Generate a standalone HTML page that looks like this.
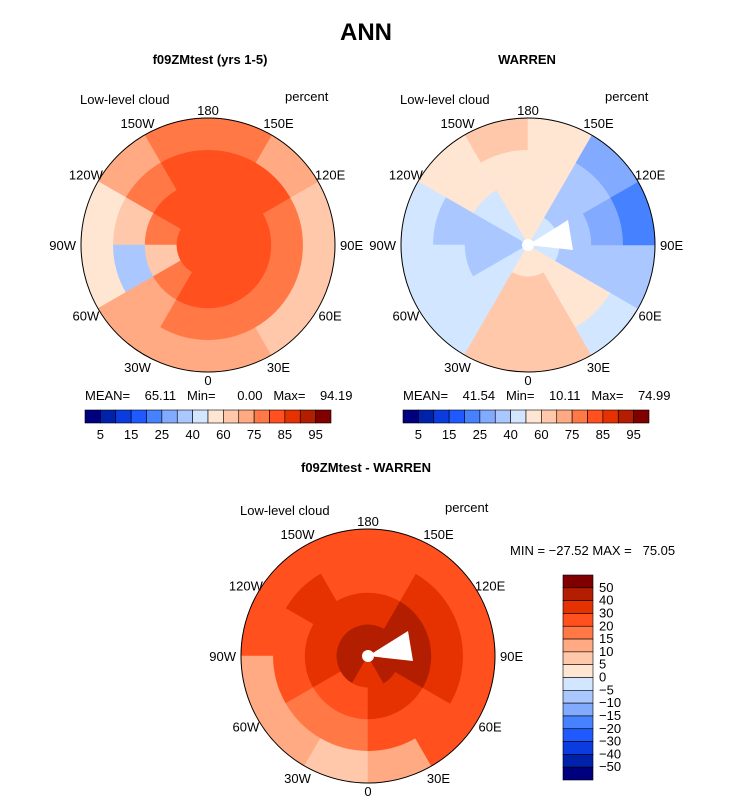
<!DOCTYPE html>
<html><head><meta charset="utf-8">
<style>
body{margin:0;background:#fff;}
svg{display:block;font-family:"Liberation Sans",sans-serif;}
.lbl{font-size:13px;fill:#000;}
.t{font-weight:bold;}
</style></head>
<body>
<svg id="svg" width="733" height="798" viewBox="0 0 733 798">
<text x="366" y="40" text-anchor="middle" font-size="24" class="t">ANN</text>
<text x="210" y="64" text-anchor="middle" font-size="13" class="t">f09ZMtest (yrs 1-5)</text>
<text x="527" y="64" text-anchor="middle" font-size="13" class="t">WARREN</text>
<text x="366" y="472" text-anchor="middle" font-size="13" class="t">f09ZMtest - WARREN</text>
<g id="maps"></g>
</svg>
<script>
const sectorsLon=[-165,-135,-105,-75,-45,-15,15,45,75,105,135,165];
const colors=["#00007f","#0022aa","#0a3ce0","#1e5aff","#4682ff","#82aaff","#aac8ff","#d2e6ff","#ffe6d2","#ffc8aa","#ffaa82","#ff7846","#ff501e","#e63200","#b41e00","#800000"];
const levelsAbs=[5,10,15,20,25,30,40,50,60,70,75,80,85,90,95];
const levelsDiff=[-50,-40,-30,-20,-15,-10,-5,0,5,10,15,20,30,40,50];
const labelsAbs=["5","15","25","40","60","75","85","95"];
const labelsDiff=["50","40","30","20","15","10","5","0","\u22125","\u221210","\u221215","\u221220","\u221230","\u221240","\u221250"];
const map1=[[82,82,80,75],[82,80,78,70],[82,75,65,50],[82,65,35,55],[82,75,70,72],[82,80,75,72],[82,82,78,72],[82,82,78,65],[82,82,75,60],[82,82,78,62],[82,82,80,70],[82,82,80,75]];
const map2=[[55,50,55,60],[45,45,50,55],[35,35,35,40],[30,30,40,45],[45,45,45,45],[55,60,60,60],[55,60,60,60],[50,55,50,45],[40,35,35,30],[35,30,25,20],[40,35,30,25],[50,50,55,55]];
const map3=[[45,30,25,20],[45,35,30,20],[45,35,25,20],[45,35,20,10],[45,25,15,10],[35,25,15,5],[35,30,20,10],[45,35,25,20],[45,40,30,20],[45,40,30,22],[45,40,30,22],[45,35,25,20]];
const NS="http://www.w3.org/2000/svg";
const root=document.getElementById('maps');
function mk(tag,attrs,parent){const e=document.createElementNS(NS,tag);for(const k in attrs)e.setAttribute(k,attrs[k]);(parent||root).appendChild(e);return e;}
function colorOf(v,lv){let i=0;while(i<lv.length&&v>=lv[i])i++;return colors[i];}
function pt(cx,cy,r,lon){const a=lon*Math.PI/180;return [cx+r*Math.sin(a),cy+r*Math.cos(a)];}
function drawMap(cx,cy,R,data,lv,name){
  const g=mk('g',{});
  
  
  for(let s=0;s<sectorsLon.length;s++){
    for(let k=0;k<data[s].length;k++){
      const r0=R*k/data[s].length,r1=R*(k+1)/data[s].length;
      const l0=sectorsLon[s]-15,l1=sectorsLon[s]+15;
      const a=pt(cx,cy,r1,l0),b=pt(cx,cy,r1,l1),c=pt(cx,cy,r0,l1),d=pt(cx,cy,r0,l0);
      const col=colorOf(data[s][k],lv);
      const p=mk('path',{d:`M${a[0]},${a[1]} A${r1},${r1} 0 0 0 ${b[0]},${b[1]} L${c[0]},${c[1]} A${r0},${r0} 0 0 1 ${d[0]},${d[1]}Z`,fill:col,stroke:col,'stroke-width':0.6},g);
      
      
    }
  }
  const c=mk('circle',{cx:cx,cy:cy,r:R,fill:'none',stroke:'#000','stroke-width':1},g);
  
  
  const lons=[[-150,"150W"],[150,"150E"],[-120,"120W"],[120,"120E"],[-60,"60W"],[60,"60E"],[-30,"30W"],[30,"30E"]];
  const addT=(x,y,t,anchor)=>{const tx=mk('text',{x:x,y:y,'text-anchor':anchor,class:'lbl'},g);tx.textContent=t;
    
    };
  lons.forEach(([l,t])=>{const q=pt(cx,cy,R+14,l);addT(q[0],q[1]+5,t,'middle');});
  addT(cx,cy-R-3,'180','middle');
  addT(cx,cy+R+13,'0','middle');
  addT(cx-R-5,cy+5,'90W','end');
  addT(cx+R+5,cy+5,'90E','start');
  const t1=mk('text',{x:cx-128,y:cy-141,class:'lbl'},g);t1.textContent='Low-level cloud';
  
  
  const t2=mk('text',{x:cx+77,y:cy-144,class:'lbl'},g);t2.textContent='percent';
  
  
}
function hbar(x0,y0,w,h,stat,name){
  const g=mk('g',{});
  
  
  const bw=w/colors.length;
  colors.forEach((c,i)=>{const r=mk('rect',{x:x0+i*bw,y:y0,width:bw,height:h,fill:c,stroke:'#000','stroke-width':0.6},g);
    
    });
  labelsAbs.forEach((t,j)=>{const tx=mk('text',{x:x0+(2*j+1)*bw,y:y0+h+16,'text-anchor':'middle',class:'lbl'},g);tx.textContent=t;
    
    });
  const st=mk('text',{x:x0,y:y0-10,class:'lbl','font-size':12},g);st.textContent=stat;st.style.whiteSpace='pre';
  
  
}
drawMap(208,245,127,map1,levelsAbs,'map-model');
drawMap(528,245,127,map2,levelsAbs,'map-warren');
drawMap(368,656,127,map3,levelsDiff,'map-difference');
[[528,245],[368,656]].forEach(([cx,cy])=>{const w=mk('path',{d:`M${cx},${cy} L${cx+40},${cy-25} L${cx+45},${cy+5} Z`,fill:'#fff'});
  
  
  const c=mk('circle',{cx:cx,cy:cy,r:6,fill:'#fff'});
  
  });
hbar(85,410,246,13,'MEAN=    65.11   Min=      0.00   Max=    94.19','colorbar-model');
hbar(403,410,246,13,'MEAN=    41.54   Min=    10.11   Max=    74.99','colorbar-warren');
(function(){
  const g=mk('g',{});
  
  
  const x0=563,y0=575,w=30,h=205,bh=h/colors.length;
  for(let i=0;i<colors.length;i++){const r=mk('rect',{x:x0,y:y0+i*bh,width:w,height:bh,fill:colors[colors.length-1-i],stroke:'#000','stroke-width':0.6},g);
    
    }
  labelsDiff.forEach((t,j)=>{const tx=mk('text',{x:x0+w+6,y:y0+(j+1)*bh+4,class:'lbl','font-size':12},g);tx.textContent=t;
    
    });
  const st=mk('text',{x:510,y:555,class:'lbl','font-size':12},g);st.textContent='MIN = \u221227.52 MAX =   75.05';st.style.whiteSpace='pre';
  
  
})();
</script>
</body></html>
